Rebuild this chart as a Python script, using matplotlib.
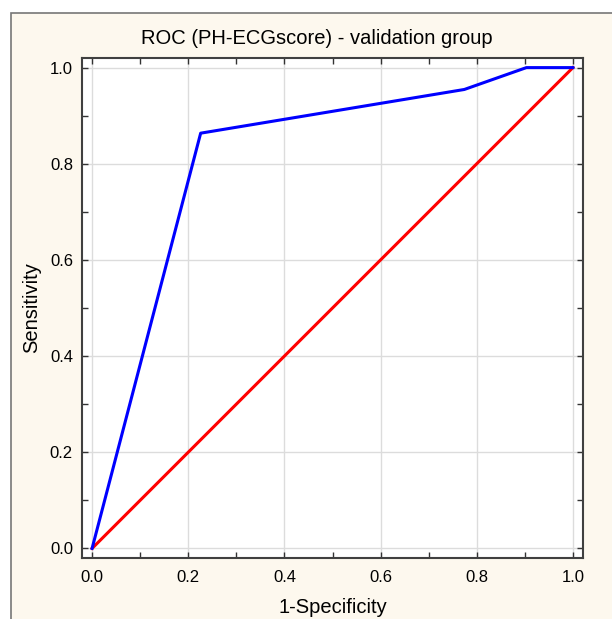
import matplotlib
matplotlib.use('Agg')
import matplotlib.pyplot as plt
from matplotlib.patches import Rectangle

# ROC points (1-specificity, sensitivity)
fpr = [0.0, 7 / 31, 24 / 31, 28 / 31, 1.0]
tpr = [0.0, 19 / 22, 21 / 22, 1.0, 1.0]
ref_line = [0.0, 1.0]
major_ticks = [0.0, 0.2, 0.4, 0.6, 0.8, 1.0]
minor_ticks = [0.1, 0.3, 0.5, 0.7, 0.9]

plt.rcParams['font.family'] = ['Liberation Sans', 'DejaVu Sans']

fig = plt.figure(figsize=(6.12, 6.19), dpi=100, facecolor='white')
fig.add_artist(Rectangle((11 / 612, -0.2), 1.2, 1.2 - 13 / 619,
                         transform=fig.transFigure, facecolor='#FDF8EE',
                         edgecolor='#777777', linewidth=1.2, zorder=-10))

ax = fig.add_axes([82 / 612, 1 - 558 / 619, (583 - 82) / 612, (558 - 58) / 619])
ax.set_facecolor('white')

ax.plot(ref_line, ref_line, color='#FF0000', linewidth=2.2, zorder=3)
ax.plot(fpr, tpr, color='#0000FF', linewidth=2.2, zorder=4)

ax.set_xlim(-0.021, 1.021)
ax.set_ylim(-0.02, 1.02)
ax.set_xticks(major_ticks)
ax.set_yticks(major_ticks)
ax.set_xticks(minor_ticks, minor=True)
ax.set_yticks(minor_ticks, minor=True)
ax.set_xticklabels([f'{t:.1f}' for t in major_ticks])
ax.set_yticklabels([f'{t:.1f}' for t in major_ticks])
ax.tick_params(which='both', direction='in', top=True, right=True,
               length=4, width=1, color='#333333', labelsize=12)
ax.tick_params(axis='x', pad=9)
ax.tick_params(axis='y', pad=6.5)
ax.grid(True, which='major', color='#DCDCDC', linewidth=1)
ax.set_axisbelow(True)

for spine in ax.spines.values():
    spine.set_color('#404040')
    spine.set_linewidth(1.5)

ax.set_xlabel('1-Specificity', fontsize=14.5, labelpad=9)
ax.set_ylabel('Sensitivity', fontsize=14.5, labelpad=6)
ax.set_title('ROC (PH-ECGscore) - validation group', fontsize=14.5, pad=10, x=0.469)

fig.savefig('out.png', dpi=100, facecolor=fig.get_facecolor())
